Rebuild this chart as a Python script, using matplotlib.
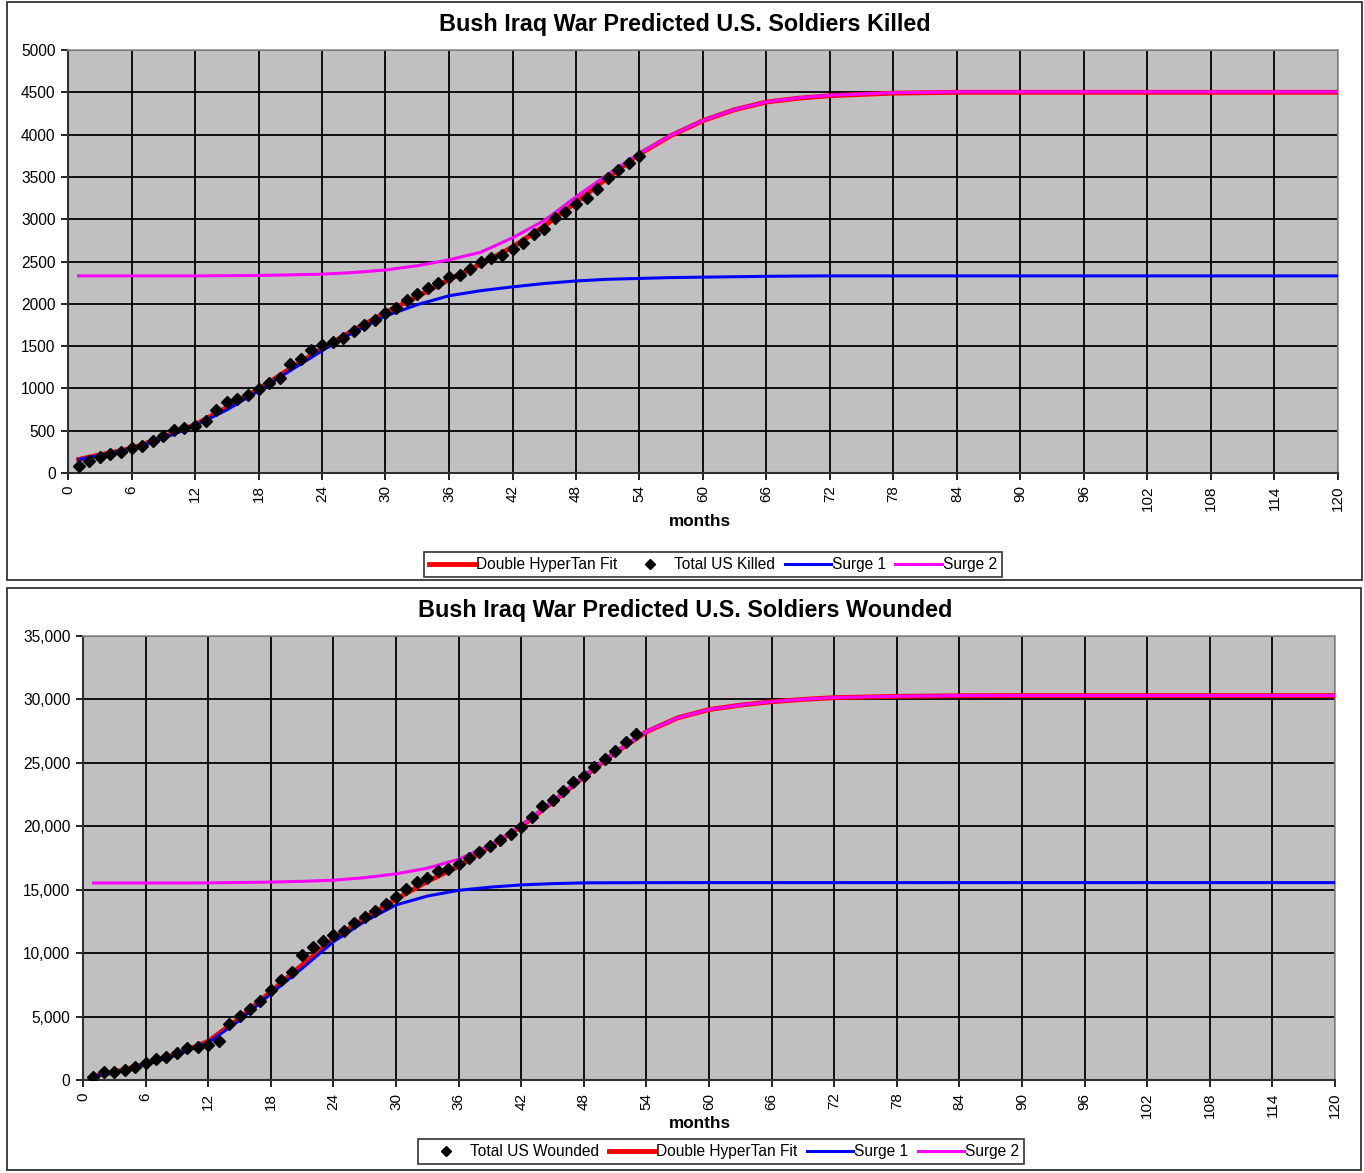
import matplotlib.pyplot as plt
from matplotlib.patches import Rectangle
from matplotlib.lines import Line2D
from matplotlib.ticker import FuncFormatter

plt.rcParams['font.family'] = ['Liberation Sans', 'DejaVu Sans']

# --- killed: observed monthly totals (months 1..54)
killed_months = list(range(1, 55))
killed_total = [79, 142, 189, 221, 248, 300, 323, 379, 442, 505, 536, 560, 611, 749,
                840, 875, 923, 994, 1065, 1128, 1285, 1345, 1451, 1510, 1546, 1597,
                1680, 1751, 1806, 1893, 1956, 2043, 2121, 2192, 2244, 2320, 2338, 2416,
                2491, 2546, 2573, 2652, 2719, 2821, 2888, 3018, 3085, 3176, 3247, 3353,
                3491, 3578, 3669, 3752]

# curve sample months
curve_months = [1, 3, 6, 9, 12, 15, 18, 21, 24, 27, 30, 33, 36, 39, 42, 45, 48, 51,
                54, 57, 60, 63, 66, 69, 72, 78, 84, 90, 120]

killed_fit = [160, 215, 290, 425, 570, 775, 990, 1235, 1470, 1690, 1895, 2085, 2285,
              2470, 2670, 2920, 3200, 3490, 3770, 3990, 4165, 4295, 4385, 4430, 4460,
              4490, 4500, 4500, 4500]
killed_surge1 = [160, 210, 285, 410, 560, 745, 970, 1210, 1445, 1665, 1855, 1990, 2095,
                 2155, 2200, 2240, 2270, 2290, 2300, 2310, 2315, 2320, 2325, 2328, 2330,
                 2330, 2330, 2330, 2330]
killed_surge2 = [2330, 2330, 2330, 2330, 2330, 2332, 2335, 2342, 2350, 2370, 2400, 2450,
                 2520, 2610, 2780, 2985, 3265, 3530, 3780, 3995, 4168, 4298, 4387, 4435,
                 4465, 4495, 4505, 4505, 4505]

# --- wounded: observed monthly totals (months 1..53)
wounded_months = list(range(1, 54))
wounded_total = [260, 655, 655, 788, 1000, 1315, 1630, 1840, 2155, 2500, 2625, 2760,
                 3100, 4415, 5045, 5625, 6250, 7095, 7885, 8515, 9855, 10510, 10980,
                 11400, 11770, 12350, 12875, 13345, 13875, 14450, 15070, 15600, 15950,
                 16480, 16660, 17030, 17480, 18000, 18450, 18920, 19370, 19970, 20760,
                 21620, 22070, 22780, 23470, 23970, 24650, 25280, 25940, 26670, 27260]

wounded_fit = [315, 620, 1260, 2050, 3050, 4870, 6960, 9070, 11100, 12760, 14250, 15650,
               16850, 18400, 20000, 21900, 23900, 25800, 27450, 28550, 29200, 29550,
               29820, 30000, 30140, 30240, 30290, 30300, 30300]
wounded_surge1 = [300, 600, 1230, 1980, 2950, 4700, 6800, 8800, 10900, 12500, 13800,
                  14500, 14950, 15200, 15380, 15480, 15540, 15550, 15555, 15560, 15560,
                  15560, 15560, 15560, 15560, 15560, 15560, 15560, 15560]
wounded_surge2 = [15530, 15530, 15530, 15530, 15540, 15570, 15600, 15660, 15750, 15950,
                  16250, 16700, 17400, 18500, 20050, 21950, 23950, 25830, 27470, 28560,
                  29210, 29560, 29830, 30010, 30150, 30250, 30300, 30310, 30310]

W, H = 1364, 1173
fig = plt.figure(figsize=(W / 100, H / 100), dpi=100)


def px_axes(left, top, right, bottom):
    return fig.add_axes([left / W, 1 - bottom / H, (right - left) / W, (bottom - top) / H])


def style_axes(ax, ymax, ystep, fmt):
    ax.set_facecolor('#C0C0C0')
    ax.set_xlim(0, 120)
    ax.set_ylim(0, ymax)
    ax.set_xticks(range(0, 121, 6))
    ax.set_yticks(range(0, ymax + 1, ystep))
    ax.yaxis.set_major_formatter(FuncFormatter(fmt))
    ax.grid(True, color='black', linewidth=1.3)
    ax.set_axisbelow(True)
    ax.tick_params(axis='x', labelrotation=90, labelsize=11, length=5, width=1.2, pad=4)
    ax.tick_params(axis='y', labelsize=11.2, length=5, width=1.2, pad=4)
    for s in ['left', 'bottom']:
        ax.spines[s].set_color('#303030')
        ax.spines[s].set_linewidth(1.5)
    for s in ['top', 'right']:
        ax.spines[s].set_color('#909090')
        ax.spines[s].set_linewidth(1.2)


# chart frames
for (x0, y0, x1, y1) in [(7, 2, 1362, 580), (7, 588, 1361, 1170)]:
    fig.patches.append(Rectangle((x0 / W, 1 - y1 / H), (x1 - x0) / W, (y1 - y0) / H,
                                 transform=fig.transFigure, fill=False,
                                 edgecolor='#333333', linewidth=1.3))

legend_kw = dict(loc='center', ncol=4, fontsize=11.2, frameon=True, fancybox=False,
                 edgecolor='black', handlelength=3, handletextpad=0.05,
                 columnspacing=0.6, borderpad=0.3, borderaxespad=0)

# ---------------- top chart
ax1 = px_axes(68, 50, 1338, 473)
style_axes(ax1, 5000, 500, lambda v, p: f"{int(v)}")
l_fit, = ax1.plot(curve_months, killed_fit, color='red', lw=3.5, zorder=3)
l_s1, = ax1.plot(curve_months, killed_surge1, color='blue', lw=2.2, zorder=4)
l_s2, = ax1.plot(curve_months, killed_surge2, color='magenta', lw=2.2, zorder=4)
pts, = ax1.plot(killed_months, killed_total, 'D', color='black', ms=6, lw=0, zorder=5)
fig.text(685 / W, 1 - 25 / H, 'Bush Iraq War Predicted U.S. Soldiers Killed',
         ha='center', va='center', fontsize=16.8, fontweight='bold')
fig.text(700 / W, 1 - 521 / H, 'months', ha='center', va='center', fontsize=12.3,
         fontweight='bold')
h_pts = Line2D([], [], marker='D', color='black', ms=5, lw=0)
leg1 = fig.legend([l_fit, h_pts, l_s1, l_s2],
                  ['Double HyperTan Fit', 'Total US Killed', 'Surge 1', 'Surge 2'],
                  bbox_to_anchor=(713 / W, 1 - 564.5 / H), **legend_kw)
leg1.get_frame().set_linewidth(1.2)

# ---------------- bottom chart
ax2 = px_axes(83, 636, 1335, 1080)
style_axes(ax2, 35000, 5000, lambda v, p: f"{int(v):,}")
w_fit, = ax2.plot(curve_months, wounded_fit, color='red', lw=3.5, zorder=3)
w_s1, = ax2.plot(curve_months, wounded_surge1, color='blue', lw=2.2, zorder=4)
w_s2, = ax2.plot(curve_months, wounded_surge2, color='magenta', lw=2.2, zorder=4)
w_pts, = ax2.plot(wounded_months, wounded_total, 'D', color='black', ms=6, lw=0, zorder=5)
fig.text(685 / W, 1 - 610 / H, 'Bush Iraq War Predicted U.S. Soldiers Wounded',
         ha='center', va='center', fontsize=16.8, fontweight='bold')
fig.text(700 / W, 1 - 1124 / H, 'months', ha='center', va='center', fontsize=12.3,
         fontweight='bold')
leg2 = fig.legend([h_pts, w_fit, w_s1, w_s2],
                  ['Total US Wounded', 'Double HyperTan Fit', 'Surge 1', 'Surge 2'],
                  bbox_to_anchor=(721 / W, 1 - 1151.5 / H), **legend_kw)
leg2.get_frame().set_linewidth(1.2)

fig.savefig('out.png', dpi=100)
